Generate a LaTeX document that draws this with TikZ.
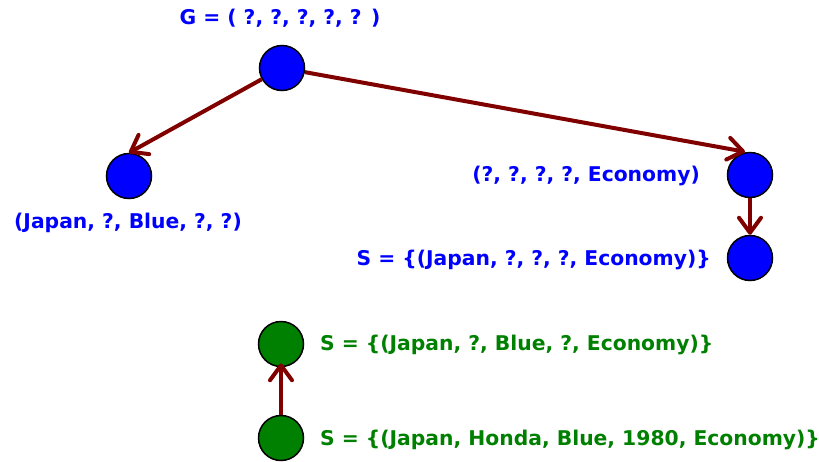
\documentclass[tikz,border=0pt]{standalone}
\usepackage{fontspec}
\setmainfont{DejaVu Sans}
\usetikzlibrary{arrows.meta}
\definecolor{nodeblue}{RGB}{0,0,255}
\definecolor{nodegreen}{RGB}{0,128,0}
\definecolor{arrowred}{RGB}{128,0,0}
\tikzset{
  bluenode/.style={circle, draw=black, line width=1.5pt, fill=nodeblue, minimum size=45pt, inner sep=0pt},
  greennode/.style={circle, draw=black, line width=1.5pt, fill=nodegreen, minimum size=45pt, inner sep=0pt},
  bluelabel/.style={text=nodeblue, font=\fontsize{20.3}{24}\selectfont\bfseries, inner sep=0pt},
  greenlabel/.style={text=nodegreen, font=\fontsize{20.3}{24}\selectfont\bfseries, inner sep=0pt},
  conn/.style={draw=arrowred, line width=4pt, -{Straight Barb[length=15pt,width=22pt,round]}}
}
\begin{document}
\begin{tikzpicture}[x=1pt,y=-1pt]
\useasboundingbox (0,0) rectangle (819,461);
\node[bluenode] (g) at (282,68) {};
\node[bluenode] (a) at (129,176) {};
\node[bluenode] (b) at (750,175) {};
\node[bluenode] (c) at (750,258) {};
\node[greennode] (d) at (281,344) {};
\node[greennode] (e) at (281,438) {};
\node[bluelabel, anchor=center] (gl) at (280,18) {G = ( ?, ?, ?, ?, ? )};
\node[bluelabel, anchor=west] (al) at (14,223) {(Japan, ?, Blue, ?, ?)};
\node[bluelabel, anchor=east] (bl) at (700,176) {(?, ?, ?, ?, Economy)};
\node[bluelabel, anchor=east] (cl) at (711,260) {S = \{(Japan, ?, ?, ?, Economy)\}};
\node[greenlabel, anchor=west] (dl) at (320,345) {S = \{(Japan, ?, Blue, ?, Economy)\}};
\node[greenlabel, anchor=west] (el) at (320,440) {S = \{(Japan, Honda, Blue, 1980, Economy)\}};
\draw[conn] (g) -- (a.north);
\draw[conn] (g) -- ([xshift=-5pt]b.north);
\draw[conn] (b) -- (c);
\draw[conn, shorten >=-4pt] (e) -- (d);
\end{tikzpicture}
\end{document}
